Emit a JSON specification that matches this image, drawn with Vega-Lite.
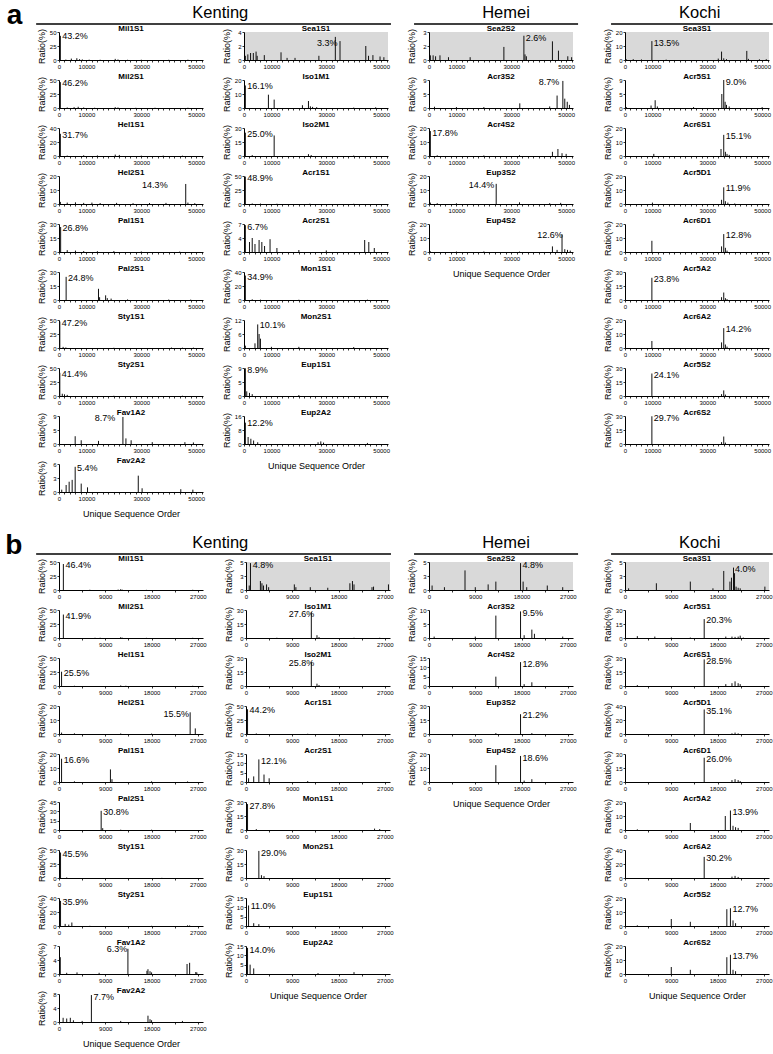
{
"$schema":"https://vega.github.io/schema/vega-lite/v6.json",
"padding":{"left":5,"top":2,"right":2,"bottom":2},
"background":"white",
"config":{
 "font":"Liberation Sans",
 "view":{"stroke":null},
 "axis":{"grid":false,"domainColor":"#000","tickColor":"#000","labelColor":"#000","titleColor":"#000","labelFontSize":6,"tickSize":2,"labelPadding":1,"titleFontSize":9,"titleFontWeight":"normal","domainWidth":1,"tickWidth":0.8},
 "axisY":{"titlePadding":1,"minExtent":12,"maxExtent":12},
 "axisX":{"labelFlush":false,"labelOverlap":false,"titlePadding":8},
 "title":{"fontSize":8,"fontWeight":"bold","offset":-5,"color":"#000"},
 "rule":{"color":"#111","strokeWidth":1},
 "text":{"fontSize":9,"align":"left","baseline":"middle","color":"#000"}
},
"datasets":{
"a":[
{"p":"Mil1S1","x":500,"y":43.2},{"p":"Mil1S1","x":2500,"y":0.8},{"p":"Mil1S1","x":4500,"y":2.5},{"p":"Mil1S1","x":6500,"y":3.2},{"p":"Mil1S1","x":7500,"y":1.5},{"p":"Mil1S1","x":8500,"y":1},{"p":"Mil1S1","x":11000,"y":0.6},{"p":"Mil1S1","x":15000,"y":0.5},{"p":"Mil1S1","x":20500,"y":2},{"p":"Mil1S1","x":21500,"y":1},{"p":"Mil1S1","x":25000,"y":0.4},{"p":"Mil1S1","x":30000,"y":0.5},{"p":"Mil1S1","x":40000,"y":0.4},{"p":"Mil1S1","x":47000,"y":0.6},{"p":"Mil1S1","x":1200,"y":42,"t":"43.2%"},
{"p":"Mil2S1","x":500,"y":46.2},{"p":"Mil2S1","x":3000,"y":1},{"p":"Mil2S1","x":5500,"y":1.5},{"p":"Mil2S1","x":7000,"y":2.2},{"p":"Mil2S1","x":9000,"y":1},{"p":"Mil2S1","x":13000,"y":0.5},{"p":"Mil2S1","x":20500,"y":1.5},{"p":"Mil2S1","x":21500,"y":1},{"p":"Mil2S1","x":28000,"y":0.4},{"p":"Mil2S1","x":35000,"y":0.5},{"p":"Mil2S1","x":47000,"y":0.5},{"p":"Mil2S1","x":1200,"y":44,"t":"46.2%"},
{"p":"Hel1S1","x":500,"y":31.7},{"p":"Hel1S1","x":3000,"y":0.6},{"p":"Hel1S1","x":9000,"y":1},{"p":"Hel1S1","x":14000,"y":0.8},{"p":"Hel1S1","x":20500,"y":2},{"p":"Hel1S1","x":22000,"y":1.5},{"p":"Hel1S1","x":30000,"y":0.5},{"p":"Hel1S1","x":38000,"y":0.6},{"p":"Hel1S1","x":45000,"y":0.5},{"p":"Hel1S1","x":1200,"y":30,"t":"31.7%"},
{"p":"Hel2S1","x":46200,"y":14.3},{"p":"Hel2S1","x":500,"y":1.5},{"p":"Hel2S1","x":3000,"y":1},{"p":"Hel2S1","x":6000,"y":1.2},{"p":"Hel2S1","x":9000,"y":0.8},{"p":"Hel2S1","x":12000,"y":1},{"p":"Hel2S1","x":15000,"y":0.7},{"p":"Hel2S1","x":21000,"y":0.8},{"p":"Hel2S1","x":27000,"y":0.6},{"p":"Hel2S1","x":33000,"y":0.7},{"p":"Hel2S1","x":39000,"y":0.8},{"p":"Hel2S1","x":47000,"y":1},{"p":"Hel2S1","x":49500,"y":0.6},{"p":"Hel2S1","x":30300,"y":13.5,"t":"14.3%"},
{"p":"Pal1S1","x":600,"y":26.8},{"p":"Pal1S1","x":3000,"y":2},{"p":"Pal1S1","x":6000,"y":1.5},{"p":"Pal1S1","x":9000,"y":1},{"p":"Pal1S1","x":14000,"y":0.8},{"p":"Pal1S1","x":20000,"y":1},{"p":"Pal1S1","x":30000,"y":0.6},{"p":"Pal1S1","x":44000,"y":0.5},{"p":"Pal1S1","x":1300,"y":25.5,"t":"26.8%"},
{"p":"Pal2S1","x":2600,"y":24.8},{"p":"Pal2S1","x":14400,"y":12},{"p":"Pal2S1","x":14800,"y":3},{"p":"Pal2S1","x":17000,"y":5},{"p":"Pal2S1","x":17600,"y":2},{"p":"Pal2S1","x":19000,"y":1.5},{"p":"Pal2S1","x":25000,"y":0.6},{"p":"Pal2S1","x":40000,"y":0.5},{"p":"Pal2S1","x":48000,"y":0.4},{"p":"Pal2S1","x":3300,"y":23.5,"t":"24.8%"},
{"p":"Sty1S1","x":300,"y":47.2},{"p":"Sty1S1","x":1500,"y":2},{"p":"Sty1S1","x":2500,"y":1},{"p":"Sty1S1","x":20000,"y":0.4},{"p":"Sty1S1","x":41000,"y":0.8},{"p":"Sty1S1","x":45000,"y":0.6},{"p":"Sty1S1","x":49000,"y":0.7},{"p":"Sty1S1","x":1000,"y":45,"t":"47.2%"},
{"p":"Sty2S1","x":300,"y":41.4},{"p":"Sty2S1","x":1200,"y":4},{"p":"Sty2S1","x":2000,"y":3},{"p":"Sty2S1","x":3000,"y":2},{"p":"Sty2S1","x":20000,"y":0.4},{"p":"Sty2S1","x":45000,"y":0.5},{"p":"Sty2S1","x":1000,"y":39.5,"t":"41.4%"},
{"p":"Fav1A2","x":23300,"y":8.7},{"p":"Fav1A2","x":5900,"y":2.5},{"p":"Fav1A2","x":8100,"y":1.2},{"p":"Fav1A2","x":14400,"y":1},{"p":"Fav1A2","x":24400,"y":1.8},{"p":"Fav1A2","x":26300,"y":1.2},{"p":"Fav1A2","x":34000,"y":0.6},{"p":"Fav1A2","x":45900,"y":0.6},{"p":"Fav1A2","x":49000,"y":0.5},{"p":"Fav1A2","x":13000,"y":8.2,"t":"8.7%"},
{"p":"Fav2A2","x":5900,"y":5.4},{"p":"Fav2A2","x":1000,"y":0.5},{"p":"Fav2A2","x":2600,"y":1.5},{"p":"Fav2A2","x":3700,"y":2.2},{"p":"Fav2A2","x":4800,"y":2.6},{"p":"Fav2A2","x":8100,"y":1.8},{"p":"Fav2A2","x":10400,"y":1},{"p":"Fav2A2","x":28900,"y":3.5},{"p":"Fav2A2","x":30300,"y":0.8},{"p":"Fav2A2","x":44400,"y":0.6},{"p":"Fav2A2","x":48800,"y":0.5},{"p":"Fav2A2","x":6600,"y":5.1,"t":"5.4%"},
{"p":"Sea1S1","x":500,"y":0.6},{"p":"Sea1S1","x":1400,"y":0.8},{"p":"Sea1S1","x":2400,"y":1.0},{"p":"Sea1S1","x":3400,"y":1.0},{"p":"Sea1S1","x":4400,"y":1.2},{"p":"Sea1S1","x":4800,"y":0.6},{"p":"Sea1S1","x":7400,"y":0.7},{"p":"Sea1S1","x":13500,"y":1.1},{"p":"Sea1S1","x":15700,"y":0.3},{"p":"Sea1S1","x":18600,"y":0.3},{"p":"Sea1S1","x":27300,"y":0.6},{"p":"Sea1S1","x":33300,"y":3.3},{"p":"Sea1S1","x":35000,"y":2.7},{"p":"Sea1S1","x":44400,"y":2.0},{"p":"Sea1S1","x":45400,"y":0.6},{"p":"Sea1S1","x":47000,"y":0.7},{"p":"Sea1S1","x":49600,"y":0.5},{"p":"Sea1S1","x":51000,"y":0.4},{"p":"Sea1S1","x":26600,"y":2.5,"t":"3.3%"},
{"p":"Iso1M1","x":500,"y":16.1},{"p":"Iso1M1","x":8900,"y":9.5},{"p":"Iso1M1","x":11000,"y":6},{"p":"Iso1M1","x":21300,"y":2},{"p":"Iso1M1","x":23500,"y":5},{"p":"Iso1M1","x":24200,"y":1.2},{"p":"Iso1M1","x":25000,"y":0.8},{"p":"Iso1M1","x":26500,"y":0.6},{"p":"Iso1M1","x":40000,"y":0.3},{"p":"Iso1M1","x":48000,"y":0.5},{"p":"Iso1M1","x":1200,"y":15.5,"t":"16.1%"},
{"p":"Iso2M1","x":500,"y":25},{"p":"Iso2M1","x":11000,"y":22},{"p":"Iso2M1","x":3000,"y":1},{"p":"Iso2M1","x":23500,"y":2},{"p":"Iso2M1","x":24500,"y":1},{"p":"Iso2M1","x":40000,"y":0.5},{"p":"Iso2M1","x":1200,"y":24,"t":"25.0%"},
{"p":"Acr1S1","x":500,"y":48.9},{"p":"Acr1S1","x":3000,"y":1},{"p":"Acr1S1","x":6000,"y":0.8},{"p":"Acr1S1","x":12000,"y":0.5},{"p":"Acr1S1","x":24000,"y":0.6},{"p":"Acr1S1","x":40000,"y":0.4},{"p":"Acr1S1","x":1200,"y":46,"t":"48.9%"},
{"p":"Acr2S1","x":500,"y":6.7},{"p":"Acr2S1","x":2000,"y":2.5},{"p":"Acr2S1","x":3000,"y":3.5},{"p":"Acr2S1","x":4000,"y":2},{"p":"Acr2S1","x":5500,"y":3},{"p":"Acr2S1","x":6500,"y":2.5},{"p":"Acr2S1","x":7500,"y":1.5},{"p":"Acr2S1","x":9500,"y":3.2},{"p":"Acr2S1","x":12000,"y":1},{"p":"Acr2S1","x":20000,"y":0.5},{"p":"Acr2S1","x":30000,"y":0.4},{"p":"Acr2S1","x":44000,"y":3},{"p":"Acr2S1","x":45500,"y":2.5},{"p":"Acr2S1","x":47500,"y":1},{"p":"Acr2S1","x":1200,"y":6.3,"t":"6.7%"},
{"p":"Mon1S1","x":500,"y":34.9},{"p":"Mon1S1","x":3000,"y":1},{"p":"Mon1S1","x":6000,"y":0.5},{"p":"Mon1S1","x":20000,"y":0.4},{"p":"Mon1S1","x":45000,"y":0.5},{"p":"Mon1S1","x":1200,"y":33,"t":"34.9%"},
{"p":"Mon2S1","x":5000,"y":10.1},{"p":"Mon2S1","x":5500,"y":6},{"p":"Mon2S1","x":6000,"y":4},{"p":"Mon2S1","x":4000,"y":2},{"p":"Mon2S1","x":500,"y":1},{"p":"Mon2S1","x":10000,"y":0.5},{"p":"Mon2S1","x":20000,"y":0.5},{"p":"Mon2S1","x":40000,"y":0.4},{"p":"Mon2S1","x":5700,"y":10,"t":"10.1%"},
{"p":"Eup1S1","x":500,"y":8.9},{"p":"Eup1S1","x":1000,"y":1.5},{"p":"Eup1S1","x":2000,"y":1},{"p":"Eup1S1","x":3000,"y":0.6},{"p":"Eup1S1","x":20000,"y":0.3},{"p":"Eup1S1","x":1200,"y":8.5,"t":"8.9%"},
{"p":"Eup2A2","x":500,"y":12.2},{"p":"Eup2A2","x":1500,"y":4},{"p":"Eup2A2","x":2500,"y":3},{"p":"Eup2A2","x":3500,"y":2},{"p":"Eup2A2","x":5000,"y":1},{"p":"Eup2A2","x":27000,"y":1},{"p":"Eup2A2","x":28000,"y":1.5},{"p":"Eup2A2","x":29000,"y":0.8},{"p":"Eup2A2","x":45000,"y":0.6},{"p":"Eup2A2","x":1200,"y":12,"t":"12.2%"},
{"p":"Sea2S2","x":500,"y":0.5},{"p":"Sea2S2","x":1500,"y":0.5},{"p":"Sea2S2","x":2400,"y":0.4},{"p":"Sea2S2","x":4000,"y":0.5},{"p":"Sea2S2","x":7100,"y":0.3},{"p":"Sea2S2","x":15000,"y":0.3},{"p":"Sea2S2","x":27300,"y":1.4},{"p":"Sea2S2","x":34600,"y":2.6},{"p":"Sea2S2","x":35000,"y":0.6},{"p":"Sea2S2","x":35500,"y":0.4},{"p":"Sea2S2","x":45000,"y":2.0},{"p":"Sea2S2","x":47200,"y":1.0},{"p":"Sea2S2","x":50600,"y":0.4},{"p":"Sea2S2","x":52000,"y":0.3},{"p":"Sea2S2","x":35300,"y":2.4,"t":"2.6%"},
{"p":"Acr3S2","x":2000,"y":0.4},{"p":"Acr3S2","x":10000,"y":0.3},{"p":"Acr3S2","x":20000,"y":0.3},{"p":"Acr3S2","x":33100,"y":1.5},{"p":"Acr3S2","x":44000,"y":0.5},{"p":"Acr3S2","x":46700,"y":4},{"p":"Acr3S2","x":48800,"y":8.7},{"p":"Acr3S2","x":49500,"y":3},{"p":"Acr3S2","x":50400,"y":2},{"p":"Acr3S2","x":51200,"y":1},{"p":"Acr3S2","x":40000,"y":8.3,"t":"8.7%"},
{"p":"Acr4S2","x":500,"y":17.8},{"p":"Acr4S2","x":3000,"y":0.5},{"p":"Acr4S2","x":20000,"y":0.4},{"p":"Acr4S2","x":33000,"y":0.5},{"p":"Acr4S2","x":45000,"y":3},{"p":"Acr4S2","x":47000,"y":5},{"p":"Acr4S2","x":48500,"y":2},{"p":"Acr4S2","x":50000,"y":1.5},{"p":"Acr4S2","x":1200,"y":16.5,"t":"17.8%"},
{"p":"Eup3S2","x":24500,"y":14.4},{"p":"Eup3S2","x":500,"y":1},{"p":"Eup3S2","x":3000,"y":0.6},{"p":"Eup3S2","x":10000,"y":0.5},{"p":"Eup3S2","x":33000,"y":1.2},{"p":"Eup3S2","x":44000,"y":0.6},{"p":"Eup3S2","x":48000,"y":0.8},{"p":"Eup3S2","x":14500,"y":13.5,"t":"14.4%"},
{"p":"Eup4S2","x":500,"y":0.5},{"p":"Eup4S2","x":10000,"y":0.3},{"p":"Eup4S2","x":20000,"y":0.4},{"p":"Eup4S2","x":33000,"y":0.3},{"p":"Eup4S2","x":45000,"y":4},{"p":"Eup4S2","x":46700,"y":1.5},{"p":"Eup4S2","x":48500,"y":12.6},{"p":"Eup4S2","x":49500,"y":2},{"p":"Eup4S2","x":50500,"y":1.5},{"p":"Eup4S2","x":51500,"y":1},{"p":"Eup4S2","x":39500,"y":12,"t":"12.6%"},
{"p":"Sea3S1","x":500,"y":0.5},{"p":"Sea3S1","x":3000,"y":0.6},{"p":"Sea3S1","x":6000,"y":0.4},{"p":"Sea3S1","x":9800,"y":13.5},{"p":"Sea3S1","x":15000,"y":0.3},{"p":"Sea3S1","x":34000,"y":1},{"p":"Sea3S1","x":35200,"y":6},{"p":"Sea3S1","x":36000,"y":1.2},{"p":"Sea3S1","x":37000,"y":0.6},{"p":"Sea3S1","x":44400,"y":6.5},{"p":"Sea3S1","x":45000,"y":0.8},{"p":"Sea3S1","x":49000,"y":0.5},{"p":"Sea3S1","x":51500,"y":0.6},{"p":"Sea3S1","x":10500,"y":12.5,"t":"13.5%"},
{"p":"Acr5S1","x":500,"y":0.3},{"p":"Acr5S1","x":9500,"y":0.8},{"p":"Acr5S1","x":11000,"y":2.5},{"p":"Acr5S1","x":11800,"y":0.5},{"p":"Acr5S1","x":25000,"y":0.3},{"p":"Acr5S1","x":35300,"y":4.5},{"p":"Acr5S1","x":36000,"y":9.0},{"p":"Acr5S1","x":36500,"y":2},{"p":"Acr5S1","x":37000,"y":1},{"p":"Acr5S1","x":38000,"y":0.5},{"p":"Acr5S1","x":50000,"y":0.3},{"p":"Acr5S1","x":36700,"y":8.4,"t":"9.0%"},
{"p":"Acr6S1","x":10500,"y":1.5},{"p":"Acr6S1","x":35000,"y":5},{"p":"Acr6S1","x":36000,"y":15.1},{"p":"Acr6S1","x":36600,"y":3},{"p":"Acr6S1","x":37200,"y":1.5},{"p":"Acr6S1","x":38000,"y":0.8},{"p":"Acr6S1","x":36700,"y":14.5,"t":"15.1%"},
{"p":"Acr5D1","x":10000,"y":1},{"p":"Acr5D1","x":35200,"y":3},{"p":"Acr5D1","x":36000,"y":11.9},{"p":"Acr5D1","x":36600,"y":2},{"p":"Acr5D1","x":37500,"y":1},{"p":"Acr5D1","x":40000,"y":0.4},{"p":"Acr5D1","x":36700,"y":11.3,"t":"11.9%"},
{"p":"Acr6D1","x":9800,"y":8},{"p":"Acr6D1","x":35200,"y":4},{"p":"Acr6D1","x":36000,"y":12.8},{"p":"Acr6D1","x":36600,"y":3},{"p":"Acr6D1","x":37200,"y":1},{"p":"Acr6D1","x":36700,"y":12.3,"t":"12.8%"},
{"p":"Acr5A2","x":9800,"y":23.8},{"p":"Acr5A2","x":35200,"y":3},{"p":"Acr5A2","x":36000,"y":8},{"p":"Acr5A2","x":36600,"y":2},{"p":"Acr5A2","x":37200,"y":1},{"p":"Acr5A2","x":10500,"y":22.5,"t":"23.8%"},
{"p":"Acr6A2","x":9800,"y":5},{"p":"Acr6A2","x":35200,"y":4},{"p":"Acr6A2","x":36000,"y":14.2},{"p":"Acr6A2","x":36600,"y":2.5},{"p":"Acr6A2","x":37200,"y":1},{"p":"Acr6A2","x":36700,"y":13.5,"t":"14.2%"},
{"p":"Acr5S2","x":9800,"y":24.1},{"p":"Acr5S2","x":35200,"y":2},{"p":"Acr5S2","x":36000,"y":6},{"p":"Acr5S2","x":36600,"y":1.5},{"p":"Acr5S2","x":10500,"y":23,"t":"24.1%"},
{"p":"Acr6S2","x":9800,"y":29.7},{"p":"Acr6S2","x":35200,"y":2},{"p":"Acr6S2","x":36000,"y":8},{"p":"Acr6S2","x":36600,"y":1.5},{"p":"Acr6S2","x":10500,"y":28,"t":"29.7%"}
],
"b":[
{"p":"Mil1S1","x":850,"y":46.4},{"p":"Mil1S1","x":6000,"y":0.5},{"p":"Mil1S1","x":11500,"y":0.8},{"p":"Mil1S1","x":12000,"y":1.5},{"p":"Mil1S1","x":12300,"y":0.6},{"p":"Mil1S1","x":17000,"y":0.3},{"p":"Mil1S1","x":26000,"y":0.4},{"p":"Mil1S1","x":1250,"y":44,"t":"46.4%"},
{"p":"Mil2S1","x":850,"y":41.9},{"p":"Mil2S1","x":7000,"y":0.5},{"p":"Mil2S1","x":8000,"y":0.5},{"p":"Mil2S1","x":12000,"y":1.5},{"p":"Mil2S1","x":12300,"y":0.6},{"p":"Mil2S1","x":17000,"y":0.3},{"p":"Mil2S1","x":26000,"y":0.4},{"p":"Mil2S1","x":1250,"y":40,"t":"41.9%"},
{"p":"Hel1S1","x":500,"y":25.5},{"p":"Hel1S1","x":3000,"y":0.5},{"p":"Hel1S1","x":12000,"y":1},{"p":"Hel1S1","x":13000,"y":0.5},{"p":"Hel1S1","x":26000,"y":0.4},{"p":"Hel1S1","x":900,"y":24,"t":"25.5%"},
{"p":"Hel2S1","x":25500,"y":15.5},{"p":"Hel2S1","x":500,"y":1},{"p":"Hel2S1","x":3000,"y":0.5},{"p":"Hel2S1","x":12000,"y":0.4},{"p":"Hel2S1","x":18000,"y":0.3},{"p":"Hel2S1","x":26500,"y":4},{"p":"Hel2S1","x":20300,"y":14.5,"t":"15.5%"},
{"p":"Pal1S1","x":500,"y":16.6},{"p":"Pal1S1","x":10000,"y":9},{"p":"Pal1S1","x":10300,"y":2},{"p":"Pal1S1","x":3000,"y":0.5},{"p":"Pal1S1","x":18000,"y":0.5},{"p":"Pal1S1","x":25000,"y":0.4},{"p":"Pal1S1","x":900,"y":15.5,"t":"16.6%"},
{"p":"Pal2S1","x":8200,"y":30.8},{"p":"Pal2S1","x":8500,"y":3},{"p":"Pal2S1","x":12000,"y":0.5},{"p":"Pal2S1","x":18000,"y":0.5},{"p":"Pal2S1","x":8600,"y":29,"t":"30.8%"},
{"p":"Sty1S1","x":300,"y":45.5},{"p":"Sty1S1","x":1500,"y":1},{"p":"Sty1S1","x":20000,"y":0.3},{"p":"Sty1S1","x":700,"y":43,"t":"45.5%"},
{"p":"Sty2S1","x":300,"y":35.9},{"p":"Sty2S1","x":1200,"y":3},{"p":"Sty2S1","x":1900,"y":2},{"p":"Sty2S1","x":2500,"y":5},{"p":"Sty2S1","x":6000,"y":0.3},{"p":"Sty2S1","x":18000,"y":0.3},{"p":"Sty2S1","x":25000,"y":1},{"p":"Sty2S1","x":25400,"y":0.8},{"p":"Sty2S1","x":700,"y":34,"t":"35.9%"},
{"p":"Fav1A2","x":250,"y":4.2},{"p":"Fav1A2","x":1500,"y":0.3},{"p":"Fav1A2","x":3500,"y":0.4},{"p":"Fav1A2","x":7800,"y":0.3},{"p":"Fav1A2","x":13400,"y":6.3},{"p":"Fav1A2","x":17100,"y":0.8},{"p":"Fav1A2","x":17300,"y":1.2},{"p":"Fav1A2","x":17700,"y":0.7},{"p":"Fav1A2","x":18000,"y":0.4},{"p":"Fav1A2","x":24900,"y":2.5},{"p":"Fav1A2","x":25400,"y":2.8},{"p":"Fav1A2","x":26600,"y":0.5},{"p":"Fav1A2","x":26800,"y":0.4},{"p":"Fav1A2","x":9300,"y":6.2,"t":"6.3%"},
{"p":"Fav2A2","x":800,"y":1.2},{"p":"Fav2A2","x":1500,"y":1},{"p":"Fav2A2","x":2200,"y":1.2},{"p":"Fav2A2","x":2800,"y":0.5},{"p":"Fav2A2","x":4500,"y":0.3},{"p":"Fav2A2","x":6300,"y":7.7},{"p":"Fav2A2","x":12000,"y":0.3},{"p":"Fav2A2","x":17300,"y":1.8},{"p":"Fav2A2","x":17700,"y":0.8},{"p":"Fav2A2","x":18000,"y":0.5},{"p":"Fav2A2","x":24000,"y":0.3},{"p":"Fav2A2","x":6700,"y":7.2,"t":"7.7%"},
{"p":"Sea1S1","x":630,"y":0.8},{"p":"Sea1S1","x":870,"y":4.8},{"p":"Sea1S1","x":2800,"y":1.6},{"p":"Sea1S1","x":3100,"y":1.2},{"p":"Sea1S1","x":3400,"y":0.8},{"p":"Sea1S1","x":4000,"y":1.0},{"p":"Sea1S1","x":4400,"y":0.5},{"p":"Sea1S1","x":9400,"y":1.0},{"p":"Sea1S1","x":9700,"y":0.5},{"p":"Sea1S1","x":12500,"y":0.5},{"p":"Sea1S1","x":15900,"y":0.4},{"p":"Sea1S1","x":20200,"y":1.2},{"p":"Sea1S1","x":20700,"y":1.6},{"p":"Sea1S1","x":21000,"y":1.0},{"p":"Sea1S1","x":24500,"y":0.5},{"p":"Sea1S1","x":24800,"y":0.6},{"p":"Sea1S1","x":27700,"y":1.0},{"p":"Sea1S1","x":1300,"y":4.5,"t":"4.8%"},
{"p":"Iso1M1","x":12700,"y":27.6},{"p":"Iso1M1","x":13800,"y":3},{"p":"Iso1M1","x":14200,"y":1},{"p":"Iso1M1","x":6000,"y":0.3},{"p":"Iso1M1","x":21000,"y":0.3},{"p":"Iso1M1","x":26000,"y":0.3},{"p":"Iso1M1","x":8300,"y":26,"t":"27.6%"},
{"p":"Iso2M1","x":12700,"y":25.8},{"p":"Iso2M1","x":13800,"y":2.5},{"p":"Iso2M1","x":14200,"y":1},{"p":"Iso2M1","x":8300,"y":25,"t":"25.8%"},
{"p":"Acr1S1","x":300,"y":44.2},{"p":"Acr1S1","x":2000,"y":1},{"p":"Acr1S1","x":12000,"y":0.5},{"p":"Acr1S1","x":700,"y":42,"t":"44.2%"},
{"p":"Acr2S1","x":2500,"y":12.1},{"p":"Acr2S1","x":500,"y":2},{"p":"Acr2S1","x":1500,"y":3},{"p":"Acr2S1","x":3500,"y":4},{"p":"Acr2S1","x":4500,"y":2},{"p":"Acr2S1","x":12000,"y":0.5},{"p":"Acr2S1","x":2900,"y":11.5,"t":"12.1%"},
{"p":"Mon1S1","x":300,"y":27.8},{"p":"Mon1S1","x":2000,"y":1},{"p":"Mon1S1","x":25000,"y":1.5},{"p":"Mon1S1","x":26000,"y":1},{"p":"Mon1S1","x":700,"y":26,"t":"27.8%"},
{"p":"Mon2S1","x":2500,"y":29.0},{"p":"Mon2S1","x":3000,"y":3},{"p":"Mon2S1","x":3500,"y":2},{"p":"Mon2S1","x":2900,"y":27,"t":"29.0%"},
{"p":"Eup1S1","x":500,"y":11.0},{"p":"Eup1S1","x":1500,"y":1.5},{"p":"Eup1S1","x":2500,"y":1},{"p":"Eup1S1","x":900,"y":10.5,"t":"11.0%"},
{"p":"Eup2A2","x":300,"y":14.0},{"p":"Eup2A2","x":800,"y":5},{"p":"Eup2A2","x":1500,"y":3},{"p":"Eup2A2","x":14000,"y":0.5},{"p":"Eup2A2","x":21000,"y":1},{"p":"Eup2A2","x":700,"y":13,"t":"14.0%"},
{"p":"Sea2S2","x":600,"y":0.8},{"p":"Sea2S2","x":3000,"y":0.5},{"p":"Sea2S2","x":7000,"y":3.5},{"p":"Sea2S2","x":9000,"y":0.5},{"p":"Sea2S2","x":11500,"y":1},{"p":"Sea2S2","x":13000,"y":1.5},{"p":"Sea2S2","x":17800,"y":4.8},{"p":"Sea2S2","x":18300,"y":1.5},{"p":"Sea2S2","x":19000,"y":0.5},{"p":"Sea2S2","x":23000,"y":0.8},{"p":"Sea2S2","x":26000,"y":0.5},{"p":"Sea2S2","x":18200,"y":4.5,"t":"4.8%"},
{"p":"Acr3S2","x":1000,"y":0.5},{"p":"Acr3S2","x":9000,"y":0.5},{"p":"Acr3S2","x":13000,"y":8},{"p":"Acr3S2","x":17800,"y":9.5},{"p":"Acr3S2","x":18500,"y":1},{"p":"Acr3S2","x":20000,"y":3},{"p":"Acr3S2","x":20500,"y":1.5},{"p":"Acr3S2","x":26000,"y":0.5},{"p":"Acr3S2","x":18200,"y":9,"t":"9.5%"},
{"p":"Acr4S2","x":13000,"y":5},{"p":"Acr4S2","x":17800,"y":12.8},{"p":"Acr4S2","x":18500,"y":1},{"p":"Acr4S2","x":20000,"y":2},{"p":"Acr4S2","x":18200,"y":12,"t":"12.8%"},
{"p":"Eup3S2","x":17800,"y":21.2},{"p":"Eup3S2","x":13000,"y":1},{"p":"Eup3S2","x":20000,"y":1},{"p":"Eup3S2","x":18200,"y":20,"t":"21.2%"},
{"p":"Eup4S2","x":13000,"y":12},{"p":"Eup4S2","x":17800,"y":18.6},{"p":"Eup4S2","x":18500,"y":1},{"p":"Eup4S2","x":20000,"y":2},{"p":"Eup4S2","x":18200,"y":17.5,"t":"18.6%"},
{"p":"Sea3S1","x":700,"y":0.3},{"p":"Sea3S1","x":6100,"y":1.2},{"p":"Sea3S1","x":12700,"y":1.5},{"p":"Sea3S1","x":17100,"y":0.3},{"p":"Sea3S1","x":19200,"y":3.4},{"p":"Sea3S1","x":20400,"y":1.5},{"p":"Sea3S1","x":20700,"y":2.2},{"p":"Sea3S1","x":21100,"y":4.0},{"p":"Sea3S1","x":21300,"y":3.0},{"p":"Sea3S1","x":21600,"y":0.6},{"p":"Sea3S1","x":22000,"y":0.4},{"p":"Sea3S1","x":22400,"y":0.3},{"p":"Sea3S1","x":27200,"y":0.6},{"p":"Sea3S1","x":21400,"y":3.8,"t":"4.0%"},
{"p":"Acr5S1","x":2400,"y":2},{"p":"Acr5S1","x":5800,"y":1.5},{"p":"Acr5S1","x":9000,"y":0.5},{"p":"Acr5S1","x":12700,"y":0.5},{"p":"Acr5S1","x":15400,"y":20.3},{"p":"Acr5S1","x":19600,"y":1.5},{"p":"Acr5S1","x":20800,"y":1.5},{"p":"Acr5S1","x":21400,"y":1.2},{"p":"Acr5S1","x":22000,"y":1.5},{"p":"Acr5S1","x":22400,"y":2.5},{"p":"Acr5S1","x":23000,"y":0.5},{"p":"Acr5S1","x":15800,"y":19.5,"t":"20.3%"},
{"p":"Acr6S1","x":2400,"y":1},{"p":"Acr6S1","x":15400,"y":28.5},{"p":"Acr6S1","x":19600,"y":2},{"p":"Acr6S1","x":20800,"y":3},{"p":"Acr6S1","x":21400,"y":5},{"p":"Acr6S1","x":22000,"y":3},{"p":"Acr6S1","x":22400,"y":2},{"p":"Acr6S1","x":15800,"y":27,"t":"28.5%"},
{"p":"Acr5D1","x":15400,"y":35.1},{"p":"Acr5D1","x":20800,"y":1},{"p":"Acr5D1","x":21400,"y":2},{"p":"Acr5D1","x":22000,"y":1},{"p":"Acr5D1","x":15800,"y":33,"t":"35.1%"},
{"p":"Acr6D1","x":15400,"y":26},{"p":"Acr6D1","x":20800,"y":2},{"p":"Acr6D1","x":21400,"y":3},{"p":"Acr6D1","x":22000,"y":2},{"p":"Acr6D1","x":22400,"y":1},{"p":"Acr6D1","x":15800,"y":25,"t":"26.0%"},
{"p":"Acr5A2","x":2400,"y":0.5},{"p":"Acr5A2","x":12700,"y":5},{"p":"Acr5A2","x":19500,"y":10},{"p":"Acr5A2","x":20500,"y":13.9},{"p":"Acr5A2","x":21000,"y":3},{"p":"Acr5A2","x":21500,"y":2},{"p":"Acr5A2","x":22000,"y":1.5},{"p":"Acr5A2","x":20900,"y":13,"t":"13.9%"},
{"p":"Acr6A2","x":15400,"y":30.2},{"p":"Acr6A2","x":20800,"y":2},{"p":"Acr6A2","x":21400,"y":3},{"p":"Acr6A2","x":22000,"y":1.5},{"p":"Acr6A2","x":15800,"y":29,"t":"30.2%"},
{"p":"Acr5S2","x":2400,"y":0.5},{"p":"Acr5S2","x":9000,"y":5},{"p":"Acr5S2","x":12700,"y":3},{"p":"Acr5S2","x":19800,"y":12},{"p":"Acr5S2","x":20500,"y":12.7},{"p":"Acr5S2","x":21000,"y":4},{"p":"Acr5S2","x":21500,"y":2},{"p":"Acr5S2","x":20900,"y":12,"t":"12.7%"},
{"p":"Acr6S2","x":9000,"y":5},{"p":"Acr6S2","x":12700,"y":3},{"p":"Acr6S2","x":19800,"y":12},{"p":"Acr6S2","x":20500,"y":13.7},{"p":"Acr6S2","x":21000,"y":3},{"p":"Acr6S2","x":21500,"y":2},{"p":"Acr6S2","x":20900,"y":13,"t":"13.7%"}
]
},
"spacing":14,
"vconcat":[
{"title":{"text":"a","orient":"left","anchor":"end","angle":0,"align":"left","baseline":"top","fontSize":28,"fontWeight":"bold","offset":13},
 "spacing":12,
 "hconcat":[
  {"spacing":0,"vconcat":[
    {"width":336,"height":22,"data":{"values":[{"t":"Kenting"}]},"layer":[
      {"mark":{"type":"text","fontSize":16.5,"align":"center","baseline":"bottom"},"encoding":{"text":{"field":"t"},"x":{"datum":0.48,"type":"quantitative","scale":{"domain":[0,1]},"axis":null},"y":{"datum":0.12,"type":"quantitative","scale":{"domain":[0,1]},"axis":null}}},
      {"mark":{"type":"rule","strokeWidth":1.6,"color":"#000"},"encoding":{"x":{"datum":-0.068,"type":"quantitative","scale":{"domain":[0,1]},"axis":null},"x2":{"datum":0.988},"y":{"datum":0,"type":"quantitative","scale":{"domain":[0,1]},"axis":null}}}]},
    {"spacing":17,"hconcat":[
      {"spacing":4,"vconcat":[
{"width":144,"height":28,"title":"Mil1S1","data":{"name":"a"},"encoding":{"x":{"field":"x","type":"quantitative","scale":{"domain":[0,52500]},"axis":{"values":[0,2000,4000,6000,8000,10000,12000,14000,16000,18000,20000,22000,24000,26000,28000,30000,32000,34000,36000,38000,40000,42000,44000,46000,48000,50000,52000],"format":"d","labelExpr":"datum.value==0||datum.value==10000||datum.value==30000||datum.value==50000?datum.label:''","title":null}},"y":{"field":"y","type":"quantitative","scale":{"domain":[0,50]},"axis":{"values":[0,25,50],"title":"Ratio(%)"}}},"layer":[{"transform":[{"filter":"datum.p=='Mil1S1'&&!datum.t"}],"mark":"rule","encoding":{"y2":{"datum":0}}},{"transform":[{"filter":"datum.p=='Mil1S1'&&datum.t"}],"mark":"text","encoding":{"text":{"field":"t"}}}]},
{"width":144,"height":28,"title":"Mil2S1","data":{"name":"a"},"encoding":{"x":{"field":"x","type":"quantitative","scale":{"domain":[0,52500]},"axis":{"values":[0,2000,4000,6000,8000,10000,12000,14000,16000,18000,20000,22000,24000,26000,28000,30000,32000,34000,36000,38000,40000,42000,44000,46000,48000,50000,52000],"format":"d","labelExpr":"datum.value==0||datum.value==10000||datum.value==30000||datum.value==50000?datum.label:''","title":null}},"y":{"field":"y","type":"quantitative","scale":{"domain":[0,50]},"axis":{"values":[0,25,50],"title":"Ratio(%)"}}},"layer":[{"transform":[{"filter":"datum.p=='Mil2S1'&&!datum.t"}],"mark":"rule","encoding":{"y2":{"datum":0}}},{"transform":[{"filter":"datum.p=='Mil2S1'&&datum.t"}],"mark":"text","encoding":{"text":{"field":"t"}}}]},
{"width":144,"height":28,"title":"Hel1S1","data":{"name":"a"},"encoding":{"x":{"field":"x","type":"quantitative","scale":{"domain":[0,52500]},"axis":{"values":[0,2000,4000,6000,8000,10000,12000,14000,16000,18000,20000,22000,24000,26000,28000,30000,32000,34000,36000,38000,40000,42000,44000,46000,48000,50000,52000],"format":"d","labelExpr":"datum.value==0||datum.value==10000||datum.value==30000||datum.value==50000?datum.label:''","title":null}},"y":{"field":"y","type":"quantitative","scale":{"domain":[0,40]},"axis":{"values":[0,20,40],"title":"Ratio(%)"}}},"layer":[{"transform":[{"filter":"datum.p=='Hel1S1'&&!datum.t"}],"mark":"rule","encoding":{"y2":{"datum":0}}},{"transform":[{"filter":"datum.p=='Hel1S1'&&datum.t"}],"mark":"text","encoding":{"text":{"field":"t"}}}]},
{"width":144,"height":28,"title":"Hel2S1","data":{"name":"a"},"encoding":{"x":{"field":"x","type":"quantitative","scale":{"domain":[0,52500]},"axis":{"values":[0,2000,4000,6000,8000,10000,12000,14000,16000,18000,20000,22000,24000,26000,28000,30000,32000,34000,36000,38000,40000,42000,44000,46000,48000,50000,52000],"format":"d","labelExpr":"datum.value==0||datum.value==10000||datum.value==30000||datum.value==50000?datum.label:''","title":null}},"y":{"field":"y","type":"quantitative","scale":{"domain":[0,20]},"axis":{"values":[0,10,20],"title":"Ratio(%)"}}},"layer":[{"transform":[{"filter":"datum.p=='Hel2S1'&&!datum.t"}],"mark":"rule","encoding":{"y2":{"datum":0}}},{"transform":[{"filter":"datum.p=='Hel2S1'&&datum.t"}],"mark":"text","encoding":{"text":{"field":"t"}}}]},
{"width":144,"height":28,"title":"Pal1S1","data":{"name":"a"},"encoding":{"x":{"field":"x","type":"quantitative","scale":{"domain":[0,52500]},"axis":{"values":[0,2000,4000,6000,8000,10000,12000,14000,16000,18000,20000,22000,24000,26000,28000,30000,32000,34000,36000,38000,40000,42000,44000,46000,48000,50000,52000],"format":"d","labelExpr":"datum.value==0||datum.value==10000||datum.value==30000||datum.value==50000?datum.label:''","title":null}},"y":{"field":"y","type":"quantitative","scale":{"domain":[0,30]},"axis":{"values":[0,15,30],"title":"Ratio(%)"}}},"layer":[{"transform":[{"filter":"datum.p=='Pal1S1'&&!datum.t"}],"mark":"rule","encoding":{"y2":{"datum":0}}},{"transform":[{"filter":"datum.p=='Pal1S1'&&datum.t"}],"mark":"text","encoding":{"text":{"field":"t"}}}]},
{"width":144,"height":28,"title":"Pal2S1","data":{"name":"a"},"encoding":{"x":{"field":"x","type":"quantitative","scale":{"domain":[0,52500]},"axis":{"values":[0,2000,4000,6000,8000,10000,12000,14000,16000,18000,20000,22000,24000,26000,28000,30000,32000,34000,36000,38000,40000,42000,44000,46000,48000,50000,52000],"format":"d","labelExpr":"datum.value==0||datum.value==10000||datum.value==30000||datum.value==50000?datum.label:''","title":null}},"y":{"field":"y","type":"quantitative","scale":{"domain":[0,30]},"axis":{"values":[0,15,30],"title":"Ratio(%)"}}},"layer":[{"transform":[{"filter":"datum.p=='Pal2S1'&&!datum.t"}],"mark":"rule","encoding":{"y2":{"datum":0}}},{"transform":[{"filter":"datum.p=='Pal2S1'&&datum.t"}],"mark":"text","encoding":{"text":{"field":"t"}}}]},
{"width":144,"height":28,"title":"Sty1S1","data":{"name":"a"},"encoding":{"x":{"field":"x","type":"quantitative","scale":{"domain":[0,52500]},"axis":{"values":[0,2000,4000,6000,8000,10000,12000,14000,16000,18000,20000,22000,24000,26000,28000,30000,32000,34000,36000,38000,40000,42000,44000,46000,48000,50000,52000],"format":"d","labelExpr":"datum.value==0||datum.value==10000||datum.value==30000||datum.value==50000?datum.label:''","title":null}},"y":{"field":"y","type":"quantitative","scale":{"domain":[0,50]},"axis":{"values":[0,25,50],"title":"Ratio(%)"}}},"layer":[{"transform":[{"filter":"datum.p=='Sty1S1'&&!datum.t"}],"mark":"rule","encoding":{"y2":{"datum":0}}},{"transform":[{"filter":"datum.p=='Sty1S1'&&datum.t"}],"mark":"text","encoding":{"text":{"field":"t"}}}]},
{"width":144,"height":28,"title":"Sty2S1","data":{"name":"a"},"encoding":{"x":{"field":"x","type":"quantitative","scale":{"domain":[0,52500]},"axis":{"values":[0,2000,4000,6000,8000,10000,12000,14000,16000,18000,20000,22000,24000,26000,28000,30000,32000,34000,36000,38000,40000,42000,44000,46000,48000,50000,52000],"format":"d","labelExpr":"datum.value==0||datum.value==10000||datum.value==30000||datum.value==50000?datum.label:''","title":null}},"y":{"field":"y","type":"quantitative","scale":{"domain":[0,50]},"axis":{"values":[0,25,50],"title":"Ratio(%)"}}},"layer":[{"transform":[{"filter":"datum.p=='Sty2S1'&&!datum.t"}],"mark":"rule","encoding":{"y2":{"datum":0}}},{"transform":[{"filter":"datum.p=='Sty2S1'&&datum.t"}],"mark":"text","encoding":{"text":{"field":"t"}}}]},
{"width":144,"height":28,"title":"Fav1A2","data":{"name":"a"},"encoding":{"x":{"field":"x","type":"quantitative","scale":{"domain":[0,52500]},"axis":{"values":[0,2000,4000,6000,8000,10000,12000,14000,16000,18000,20000,22000,24000,26000,28000,30000,32000,34000,36000,38000,40000,42000,44000,46000,48000,50000,52000],"format":"d","labelExpr":"datum.value==0||datum.value==10000||datum.value==30000||datum.value==50000?datum.label:''","title":null}},"y":{"field":"y","type":"quantitative","scale":{"domain":[0,9]},"axis":{"values":[0,4.5,9],"title":"Ratio(%)"}}},"layer":[{"transform":[{"filter":"datum.p=='Fav1A2'&&!datum.t"}],"mark":"rule","encoding":{"y2":{"datum":0}}},{"transform":[{"filter":"datum.p=='Fav1A2'&&datum.t"}],"mark":"text","encoding":{"text":{"field":"t"}}}]},
{"width":144,"height":28,"title":"Fav2A2","data":{"name":"a"},"encoding":{"x":{"field":"x","type":"quantitative","scale":{"domain":[0,52500]},"axis":{"values":[0,2000,4000,6000,8000,10000,12000,14000,16000,18000,20000,22000,24000,26000,28000,30000,32000,34000,36000,38000,40000,42000,44000,46000,48000,50000,52000],"format":"d","labelExpr":"datum.value==0||datum.value==10000||datum.value==30000||datum.value==50000?datum.label:''","title":"Unique Sequence Order"}},"y":{"field":"y","type":"quantitative","scale":{"domain":[0,6]},"axis":{"values":[0,3,6],"title":"Ratio(%)"}}},"layer":[{"transform":[{"filter":"datum.p=='Fav2A2'&&!datum.t"}],"mark":"rule","encoding":{"y2":{"datum":0}}},{"transform":[{"filter":"datum.p=='Fav2A2'&&datum.t"}],"mark":"text","encoding":{"text":{"field":"t"}}}]}
      ]},
      {"spacing":4,"vconcat":[
{"width":144,"height":28,"view":{"fill":"#d9d9d9","stroke":null},"title":"Sea1S1","data":{"name":"a"},"encoding":{"x":{"field":"x","type":"quantitative","scale":{"domain":[0,52500]},"axis":{"values":[0,2000,4000,6000,8000,10000,12000,14000,16000,18000,20000,22000,24000,26000,28000,30000,32000,34000,36000,38000,40000,42000,44000,46000,48000,50000,52000],"format":"d","labelExpr":"datum.value==0||datum.value==10000||datum.value==30000||datum.value==50000?datum.label:''","title":null}},"y":{"field":"y","type":"quantitative","scale":{"domain":[0,4]},"axis":{"values":[0,2,4],"title":"Ratio(%)"}}},"layer":[{"transform":[{"filter":"datum.p=='Sea1S1'&&!datum.t"}],"mark":"rule","encoding":{"y2":{"datum":0}}},{"transform":[{"filter":"datum.p=='Sea1S1'&&datum.t"}],"mark":"text","encoding":{"text":{"field":"t"}}}]},
{"width":144,"height":28,"title":"Iso1M1","data":{"name":"a"},"encoding":{"x":{"field":"x","type":"quantitative","scale":{"domain":[0,52500]},"axis":{"values":[0,2000,4000,6000,8000,10000,12000,14000,16000,18000,20000,22000,24000,26000,28000,30000,32000,34000,36000,38000,40000,42000,44000,46000,48000,50000,52000],"format":"d","labelExpr":"datum.value==0||datum.value==10000||datum.value==30000||datum.value==50000?datum.label:''","title":null}},"y":{"field":"y","type":"quantitative","scale":{"domain":[0,20]},"axis":{"values":[0,10,20],"title":"Ratio(%)"}}},"layer":[{"transform":[{"filter":"datum.p=='Iso1M1'&&!datum.t"}],"mark":"rule","encoding":{"y2":{"datum":0}}},{"transform":[{"filter":"datum.p=='Iso1M1'&&datum.t"}],"mark":"text","encoding":{"text":{"field":"t"}}}]},
{"width":144,"height":28,"title":"Iso2M1","data":{"name":"a"},"encoding":{"x":{"field":"x","type":"quantitative","scale":{"domain":[0,52500]},"axis":{"values":[0,2000,4000,6000,8000,10000,12000,14000,16000,18000,20000,22000,24000,26000,28000,30000,32000,34000,36000,38000,40000,42000,44000,46000,48000,50000,52000],"format":"d","labelExpr":"datum.value==0||datum.value==10000||datum.value==30000||datum.value==50000?datum.label:''","title":null}},"y":{"field":"y","type":"quantitative","scale":{"domain":[0,30]},"axis":{"values":[0,15,30],"title":"Ratio(%)"}}},"layer":[{"transform":[{"filter":"datum.p=='Iso2M1'&&!datum.t"}],"mark":"rule","encoding":{"y2":{"datum":0}}},{"transform":[{"filter":"datum.p=='Iso2M1'&&datum.t"}],"mark":"text","encoding":{"text":{"field":"t"}}}]},
{"width":144,"height":28,"title":"Acr1S1","data":{"name":"a"},"encoding":{"x":{"field":"x","type":"quantitative","scale":{"domain":[0,52500]},"axis":{"values":[0,2000,4000,6000,8000,10000,12000,14000,16000,18000,20000,22000,24000,26000,28000,30000,32000,34000,36000,38000,40000,42000,44000,46000,48000,50000,52000],"format":"d","labelExpr":"datum.value==0||datum.value==10000||datum.value==30000||datum.value==50000?datum.label:''","title":null}},"y":{"field":"y","type":"quantitative","scale":{"domain":[0,50]},"axis":{"values":[0,25,50],"title":"Ratio(%)"}}},"layer":[{"transform":[{"filter":"datum.p=='Acr1S1'&&!datum.t"}],"mark":"rule","encoding":{"y2":{"datum":0}}},{"transform":[{"filter":"datum.p=='Acr1S1'&&datum.t"}],"mark":"text","encoding":{"text":{"field":"t"}}}]},
{"width":144,"height":28,"title":"Acr2S1","data":{"name":"a"},"encoding":{"x":{"field":"x","type":"quantitative","scale":{"domain":[0,52500]},"axis":{"values":[0,2000,4000,6000,8000,10000,12000,14000,16000,18000,20000,22000,24000,26000,28000,30000,32000,34000,36000,38000,40000,42000,44000,46000,48000,50000,52000],"format":"d","labelExpr":"datum.value==0||datum.value==10000||datum.value==30000||datum.value==50000?datum.label:''","title":null}},"y":{"field":"y","type":"quantitative","scale":{"domain":[0,7]},"axis":{"values":[0,3.5,7],"title":"Ratio(%)"}}},"layer":[{"transform":[{"filter":"datum.p=='Acr2S1'&&!datum.t"}],"mark":"rule","encoding":{"y2":{"datum":0}}},{"transform":[{"filter":"datum.p=='Acr2S1'&&datum.t"}],"mark":"text","encoding":{"text":{"field":"t"}}}]},
{"width":144,"height":28,"title":"Mon1S1","data":{"name":"a"},"encoding":{"x":{"field":"x","type":"quantitative","scale":{"domain":[0,52500]},"axis":{"values":[0,2000,4000,6000,8000,10000,12000,14000,16000,18000,20000,22000,24000,26000,28000,30000,32000,34000,36000,38000,40000,42000,44000,46000,48000,50000,52000],"format":"d","labelExpr":"datum.value==0||datum.value==10000||datum.value==30000||datum.value==50000?datum.label:''","title":null}},"y":{"field":"y","type":"quantitative","scale":{"domain":[0,40]},"axis":{"values":[0,20,40],"title":"Ratio(%)"}}},"layer":[{"transform":[{"filter":"datum.p=='Mon1S1'&&!datum.t"}],"mark":"rule","encoding":{"y2":{"datum":0}}},{"transform":[{"filter":"datum.p=='Mon1S1'&&datum.t"}],"mark":"text","encoding":{"text":{"field":"t"}}}]},
{"width":144,"height":28,"title":"Mon2S1","data":{"name":"a"},"encoding":{"x":{"field":"x","type":"quantitative","scale":{"domain":[0,52500]},"axis":{"values":[0,2000,4000,6000,8000,10000,12000,14000,16000,18000,20000,22000,24000,26000,28000,30000,32000,34000,36000,38000,40000,42000,44000,46000,48000,50000,52000],"format":"d","labelExpr":"datum.value==0||datum.value==10000||datum.value==30000||datum.value==50000?datum.label:''","title":null}},"y":{"field":"y","type":"quantitative","scale":{"domain":[0,12]},"axis":{"values":[0,6,12],"title":"Ratio(%)"}}},"layer":[{"transform":[{"filter":"datum.p=='Mon2S1'&&!datum.t"}],"mark":"rule","encoding":{"y2":{"datum":0}}},{"transform":[{"filter":"datum.p=='Mon2S1'&&datum.t"}],"mark":"text","encoding":{"text":{"field":"t"}}}]},
{"width":144,"height":28,"title":"Eup1S1","data":{"name":"a"},"encoding":{"x":{"field":"x","type":"quantitative","scale":{"domain":[0,52500]},"axis":{"values":[0,2000,4000,6000,8000,10000,12000,14000,16000,18000,20000,22000,24000,26000,28000,30000,32000,34000,36000,38000,40000,42000,44000,46000,48000,50000,52000],"format":"d","labelExpr":"datum.value==0||datum.value==10000||datum.value==30000||datum.value==50000?datum.label:''","title":null}},"y":{"field":"y","type":"quantitative","scale":{"domain":[0,9]},"axis":{"values":[0,4.5,9],"title":"Ratio(%)"}}},"layer":[{"transform":[{"filter":"datum.p=='Eup1S1'&&!datum.t"}],"mark":"rule","encoding":{"y2":{"datum":0}}},{"transform":[{"filter":"datum.p=='Eup1S1'&&datum.t"}],"mark":"text","encoding":{"text":{"field":"t"}}}]},
{"width":144,"height":28,"title":"Eup2A2","data":{"name":"a"},"encoding":{"x":{"field":"x","type":"quantitative","scale":{"domain":[0,52500]},"axis":{"values":[0,2000,4000,6000,8000,10000,12000,14000,16000,18000,20000,22000,24000,26000,28000,30000,32000,34000,36000,38000,40000,42000,44000,46000,48000,50000,52000],"format":"d","labelExpr":"datum.value==0||datum.value==10000||datum.value==30000||datum.value==50000?datum.label:''","title":"Unique Sequence Order"}},"y":{"field":"y","type":"quantitative","scale":{"domain":[0,16]},"axis":{"values":[0,8,16],"title":"Ratio(%)"}}},"layer":[{"transform":[{"filter":"datum.p=='Eup2A2'&&!datum.t"}],"mark":"rule","encoding":{"y2":{"datum":0}}},{"transform":[{"filter":"datum.p=='Eup2A2'&&datum.t"}],"mark":"text","encoding":{"text":{"field":"t"}}}]}
      ]}
    ]}
  ]},
  {"spacing":8,"hconcat":[
  {"spacing":0,"vconcat":[
    {"width":166,"height":22,"data":{"values":[{"t":"Hemei"}]},"layer":[
      {"mark":{"type":"text","fontSize":16.5,"align":"center","baseline":"bottom"},"encoding":{"text":{"field":"t"},"x":{"datum":0.464,"type":"quantitative","scale":{"domain":[0,1]},"axis":null},"y":{"datum":0.12,"type":"quantitative","scale":{"domain":[0,1]},"axis":null}}},
      {"mark":{"type":"rule","strokeWidth":1.6,"color":"#000"},"encoding":{"x":{"datum":-0.09,"type":"quantitative","scale":{"domain":[0,1]},"axis":null},"x2":{"datum":0.898},"y":{"datum":0,"type":"quantitative","scale":{"domain":[0,1]},"axis":null}}}]},
    {"spacing":4,"vconcat":[
{"width":144,"height":28,"view":{"fill":"#d9d9d9","stroke":null},"title":"Sea2S2","data":{"name":"a"},"encoding":{"x":{"field":"x","type":"quantitative","scale":{"domain":[0,52500]},"axis":{"values":[0,2000,4000,6000,8000,10000,12000,14000,16000,18000,20000,22000,24000,26000,28000,30000,32000,34000,36000,38000,40000,42000,44000,46000,48000,50000,52000],"format":"d","labelExpr":"datum.value==0||datum.value==10000||datum.value==30000||datum.value==50000?datum.label:''","title":null}},"y":{"field":"y","type":"quantitative","scale":{"domain":[0,3]},"axis":{"values":[0,1.5,3],"title":"Ratio(%)"}}},"layer":[{"transform":[{"filter":"datum.p=='Sea2S2'&&!datum.t"}],"mark":"rule","encoding":{"y2":{"datum":0}}},{"transform":[{"filter":"datum.p=='Sea2S2'&&datum.t"}],"mark":"text","encoding":{"text":{"field":"t"}}}]},
{"width":144,"height":28,"title":"Acr3S2","data":{"name":"a"},"encoding":{"x":{"field":"x","type":"quantitative","scale":{"domain":[0,52500]},"axis":{"values":[0,2000,4000,6000,8000,10000,12000,14000,16000,18000,20000,22000,24000,26000,28000,30000,32000,34000,36000,38000,40000,42000,44000,46000,48000,50000,52000],"format":"d","labelExpr":"datum.value==0||datum.value==10000||datum.value==30000||datum.value==50000?datum.label:''","title":null}},"y":{"field":"y","type":"quantitative","scale":{"domain":[0,9]},"axis":{"values":[0,4.5,9],"title":"Ratio(%)"}}},"layer":[{"transform":[{"filter":"datum.p=='Acr3S2'&&!datum.t"}],"mark":"rule","encoding":{"y2":{"datum":0}}},{"transform":[{"filter":"datum.p=='Acr3S2'&&datum.t"}],"mark":"text","encoding":{"text":{"field":"t"}}}]},
{"width":144,"height":28,"title":"Acr4S2","data":{"name":"a"},"encoding":{"x":{"field":"x","type":"quantitative","scale":{"domain":[0,52500]},"axis":{"values":[0,2000,4000,6000,8000,10000,12000,14000,16000,18000,20000,22000,24000,26000,28000,30000,32000,34000,36000,38000,40000,42000,44000,46000,48000,50000,52000],"format":"d","labelExpr":"datum.value==0||datum.value==10000||datum.value==30000||datum.value==50000?datum.label:''","title":null}},"y":{"field":"y","type":"quantitative","scale":{"domain":[0,20]},"axis":{"values":[0,10,20],"title":"Ratio(%)"}}},"layer":[{"transform":[{"filter":"datum.p=='Acr4S2'&&!datum.t"}],"mark":"rule","encoding":{"y2":{"datum":0}}},{"transform":[{"filter":"datum.p=='Acr4S2'&&datum.t"}],"mark":"text","encoding":{"text":{"field":"t"}}}]},
{"width":144,"height":28,"title":"Eup3S2","data":{"name":"a"},"encoding":{"x":{"field":"x","type":"quantitative","scale":{"domain":[0,52500]},"axis":{"values":[0,2000,4000,6000,8000,10000,12000,14000,16000,18000,20000,22000,24000,26000,28000,30000,32000,34000,36000,38000,40000,42000,44000,46000,48000,50000,52000],"format":"d","labelExpr":"datum.value==0||datum.value==10000||datum.value==30000||datum.value==50000?datum.label:''","title":null}},"y":{"field":"y","type":"quantitative","scale":{"domain":[0,20]},"axis":{"values":[0,10,20],"title":"Ratio(%)"}}},"layer":[{"transform":[{"filter":"datum.p=='Eup3S2'&&!datum.t"}],"mark":"rule","encoding":{"y2":{"datum":0}}},{"transform":[{"filter":"datum.p=='Eup3S2'&&datum.t"}],"mark":"text","encoding":{"text":{"field":"t"}}}]},
{"width":144,"height":28,"title":"Eup4S2","data":{"name":"a"},"encoding":{"x":{"field":"x","type":"quantitative","scale":{"domain":[0,52500]},"axis":{"values":[0,2000,4000,6000,8000,10000,12000,14000,16000,18000,20000,22000,24000,26000,28000,30000,32000,34000,36000,38000,40000,42000,44000,46000,48000,50000,52000],"format":"d","labelExpr":"datum.value==0||datum.value==10000||datum.value==30000||datum.value==50000?datum.label:''","title":"Unique Sequence Order"}},"y":{"field":"y","type":"quantitative","scale":{"domain":[0,20]},"axis":{"values":[0,10,20],"title":"Ratio(%)"}}},"layer":[{"transform":[{"filter":"datum.p=='Eup4S2'&&!datum.t"}],"mark":"rule","encoding":{"y2":{"datum":0}}},{"transform":[{"filter":"datum.p=='Eup4S2'&&datum.t"}],"mark":"text","encoding":{"text":{"field":"t"}}}]}
    ]}
  ]},
  {"spacing":0,"vconcat":[
    {"width":166,"height":22,"data":{"values":[{"t":"Kochi"}]},"layer":[
      {"mark":{"type":"text","fontSize":16.5,"align":"center","baseline":"bottom"},"encoding":{"text":{"field":"t"},"x":{"datum":0.45,"type":"quantitative","scale":{"domain":[0,1]},"axis":null},"y":{"datum":0.12,"type":"quantitative","scale":{"domain":[0,1]},"axis":null}}},
      {"mark":{"type":"rule","strokeWidth":1.6,"color":"#000"},"encoding":{"x":{"datum":-0.084,"type":"quantitative","scale":{"domain":[0,1]},"axis":null},"x2":{"datum":0.89},"y":{"datum":0,"type":"quantitative","scale":{"domain":[0,1]},"axis":null}}}]},
    {"spacing":4,"vconcat":[
{"width":144,"height":28,"view":{"fill":"#d9d9d9","stroke":null},"title":"Sea3S1","data":{"name":"a"},"encoding":{"x":{"field":"x","type":"quantitative","scale":{"domain":[0,52500]},"axis":{"values":[0,2000,4000,6000,8000,10000,12000,14000,16000,18000,20000,22000,24000,26000,28000,30000,32000,34000,36000,38000,40000,42000,44000,46000,48000,50000,52000],"format":"d","labelExpr":"datum.value==0||datum.value==10000||datum.value==30000||datum.value==50000?datum.label:''","title":null}},"y":{"field":"y","type":"quantitative","scale":{"domain":[0,20]},"axis":{"values":[0,10,20],"title":"Ratio(%)"}}},"layer":[{"transform":[{"filter":"datum.p=='Sea3S1'&&!datum.t"}],"mark":"rule","encoding":{"y2":{"datum":0}}},{"transform":[{"filter":"datum.p=='Sea3S1'&&datum.t"}],"mark":"text","encoding":{"text":{"field":"t"}}}]},
{"width":144,"height":28,"title":"Acr5S1","data":{"name":"a"},"encoding":{"x":{"field":"x","type":"quantitative","scale":{"domain":[0,52500]},"axis":{"values":[0,2000,4000,6000,8000,10000,12000,14000,16000,18000,20000,22000,24000,26000,28000,30000,32000,34000,36000,38000,40000,42000,44000,46000,48000,50000,52000],"format":"d","labelExpr":"datum.value==0||datum.value==10000||datum.value==30000||datum.value==50000?datum.label:''","title":null}},"y":{"field":"y","type":"quantitative","scale":{"domain":[0,9]},"axis":{"values":[0,4.5,9],"title":"Ratio(%)"}}},"layer":[{"transform":[{"filter":"datum.p=='Acr5S1'&&!datum.t"}],"mark":"rule","encoding":{"y2":{"datum":0}}},{"transform":[{"filter":"datum.p=='Acr5S1'&&datum.t"}],"mark":"text","encoding":{"text":{"field":"t"}}}]},
{"width":144,"height":28,"title":"Acr6S1","data":{"name":"a"},"encoding":{"x":{"field":"x","type":"quantitative","scale":{"domain":[0,52500]},"axis":{"values":[0,2000,4000,6000,8000,10000,12000,14000,16000,18000,20000,22000,24000,26000,28000,30000,32000,34000,36000,38000,40000,42000,44000,46000,48000,50000,52000],"format":"d","labelExpr":"datum.value==0||datum.value==10000||datum.value==30000||datum.value==50000?datum.label:''","title":null}},"y":{"field":"y","type":"quantitative","scale":{"domain":[0,20]},"axis":{"values":[0,10,20],"title":"Ratio(%)"}}},"layer":[{"transform":[{"filter":"datum.p=='Acr6S1'&&!datum.t"}],"mark":"rule","encoding":{"y2":{"datum":0}}},{"transform":[{"filter":"datum.p=='Acr6S1'&&datum.t"}],"mark":"text","encoding":{"text":{"field":"t"}}}]},
{"width":144,"height":28,"title":"Acr5D1","data":{"name":"a"},"encoding":{"x":{"field":"x","type":"quantitative","scale":{"domain":[0,52500]},"axis":{"values":[0,2000,4000,6000,8000,10000,12000,14000,16000,18000,20000,22000,24000,26000,28000,30000,32000,34000,36000,38000,40000,42000,44000,46000,48000,50000,52000],"format":"d","labelExpr":"datum.value==0||datum.value==10000||datum.value==30000||datum.value==50000?datum.label:''","title":null}},"y":{"field":"y","type":"quantitative","scale":{"domain":[0,20]},"axis":{"values":[0,10,20],"title":"Ratio(%)"}}},"layer":[{"transform":[{"filter":"datum.p=='Acr5D1'&&!datum.t"}],"mark":"rule","encoding":{"y2":{"datum":0}}},{"transform":[{"filter":"datum.p=='Acr5D1'&&datum.t"}],"mark":"text","encoding":{"text":{"field":"t"}}}]},
{"width":144,"height":28,"title":"Acr6D1","data":{"name":"a"},"encoding":{"x":{"field":"x","type":"quantitative","scale":{"domain":[0,52500]},"axis":{"values":[0,2000,4000,6000,8000,10000,12000,14000,16000,18000,20000,22000,24000,26000,28000,30000,32000,34000,36000,38000,40000,42000,44000,46000,48000,50000,52000],"format":"d","labelExpr":"datum.value==0||datum.value==10000||datum.value==30000||datum.value==50000?datum.label:''","title":null}},"y":{"field":"y","type":"quantitative","scale":{"domain":[0,20]},"axis":{"values":[0,10,20],"title":"Ratio(%)"}}},"layer":[{"transform":[{"filter":"datum.p=='Acr6D1'&&!datum.t"}],"mark":"rule","encoding":{"y2":{"datum":0}}},{"transform":[{"filter":"datum.p=='Acr6D1'&&datum.t"}],"mark":"text","encoding":{"text":{"field":"t"}}}]},
{"width":144,"height":28,"title":"Acr5A2","data":{"name":"a"},"encoding":{"x":{"field":"x","type":"quantitative","scale":{"domain":[0,52500]},"axis":{"values":[0,2000,4000,6000,8000,10000,12000,14000,16000,18000,20000,22000,24000,26000,28000,30000,32000,34000,36000,38000,40000,42000,44000,46000,48000,50000,52000],"format":"d","labelExpr":"datum.value==0||datum.value==10000||datum.value==30000||datum.value==50000?datum.label:''","title":null}},"y":{"field":"y","type":"quantitative","scale":{"domain":[0,30]},"axis":{"values":[0,15,30],"title":"Ratio(%)"}}},"layer":[{"transform":[{"filter":"datum.p=='Acr5A2'&&!datum.t"}],"mark":"rule","encoding":{"y2":{"datum":0}}},{"transform":[{"filter":"datum.p=='Acr5A2'&&datum.t"}],"mark":"text","encoding":{"text":{"field":"t"}}}]},
{"width":144,"height":28,"title":"Acr6A2","data":{"name":"a"},"encoding":{"x":{"field":"x","type":"quantitative","scale":{"domain":[0,52500]},"axis":{"values":[0,2000,4000,6000,8000,10000,12000,14000,16000,18000,20000,22000,24000,26000,28000,30000,32000,34000,36000,38000,40000,42000,44000,46000,48000,50000,52000],"format":"d","labelExpr":"datum.value==0||datum.value==10000||datum.value==30000||datum.value==50000?datum.label:''","title":null}},"y":{"field":"y","type":"quantitative","scale":{"domain":[0,20]},"axis":{"values":[0,10,20],"title":"Ratio(%)"}}},"layer":[{"transform":[{"filter":"datum.p=='Acr6A2'&&!datum.t"}],"mark":"rule","encoding":{"y2":{"datum":0}}},{"transform":[{"filter":"datum.p=='Acr6A2'&&datum.t"}],"mark":"text","encoding":{"text":{"field":"t"}}}]},
{"width":144,"height":28,"title":"Acr5S2","data":{"name":"a"},"encoding":{"x":{"field":"x","type":"quantitative","scale":{"domain":[0,52500]},"axis":{"values":[0,2000,4000,6000,8000,10000,12000,14000,16000,18000,20000,22000,24000,26000,28000,30000,32000,34000,36000,38000,40000,42000,44000,46000,48000,50000,52000],"format":"d","labelExpr":"datum.value==0||datum.value==10000||datum.value==30000||datum.value==50000?datum.label:''","title":null}},"y":{"field":"y","type":"quantitative","scale":{"domain":[0,30]},"axis":{"values":[0,15,30],"title":"Ratio(%)"}}},"layer":[{"transform":[{"filter":"datum.p=='Acr5S2'&&!datum.t"}],"mark":"rule","encoding":{"y2":{"datum":0}}},{"transform":[{"filter":"datum.p=='Acr5S2'&&datum.t"}],"mark":"text","encoding":{"text":{"field":"t"}}}]},
{"width":144,"height":28,"title":"Acr6S2","data":{"name":"a"},"encoding":{"x":{"field":"x","type":"quantitative","scale":{"domain":[0,52500]},"axis":{"values":[0,2000,4000,6000,8000,10000,12000,14000,16000,18000,20000,22000,24000,26000,28000,30000,32000,34000,36000,38000,40000,42000,44000,46000,48000,50000,52000],"format":"d","labelExpr":"datum.value==0||datum.value==10000||datum.value==30000||datum.value==50000?datum.label:''","title":null}},"y":{"field":"y","type":"quantitative","scale":{"domain":[0,30]},"axis":{"values":[0,15,30],"title":"Ratio(%)"}}},"layer":[{"transform":[{"filter":"datum.p=='Acr6S2'&&!datum.t"}],"mark":"rule","encoding":{"y2":{"datum":0}}},{"transform":[{"filter":"datum.p=='Acr6S2'&&datum.t"}],"mark":"text","encoding":{"text":{"field":"t"}}}]}
    ]}
  ]}
  ]}
 ]
},
{"title":{"text":"b","orient":"left","anchor":"end","angle":0,"align":"left","baseline":"top","fontSize":28,"fontWeight":"bold","offset":13},
 "spacing":12,
 "hconcat":[
  {"spacing":0,"vconcat":[
    {"width":336,"height":22,"data":{"values":[{"t":"Kenting"}]},"layer":[
      {"mark":{"type":"text","fontSize":16.5,"align":"center","baseline":"bottom"},"encoding":{"text":{"field":"t"},"x":{"datum":0.48,"type":"quantitative","scale":{"domain":[0,1]},"axis":null},"y":{"datum":0.12,"type":"quantitative","scale":{"domain":[0,1]},"axis":null}}},
      {"mark":{"type":"rule","strokeWidth":1.6,"color":"#000"},"encoding":{"x":{"datum":-0.068,"type":"quantitative","scale":{"domain":[0,1]},"axis":null},"x2":{"datum":0.988},"y":{"datum":0,"type":"quantitative","scale":{"domain":[0,1]},"axis":null}}}]},
    {"spacing":17,"hconcat":[
      {"spacing":4,"vconcat":[
{"width":144,"height":28,"title":"Mil1S1","data":{"name":"b"},"encoding":{"x":{"field":"x","type":"quantitative","scale":{"domain":[0,28000]},"axis":{"values":[0,4500,9000,13500,18000,22500,27000],"format":"d","labelExpr":"datum.value%9000==0?datum.label:''","title":null}},"y":{"field":"y","type":"quantitative","scale":{"domain":[0,50]},"axis":{"values":[0,25,50],"title":"Ratio(%)"}}},"layer":[{"transform":[{"filter":"datum.p=='Mil1S1'&&!datum.t"}],"mark":"rule","encoding":{"y2":{"datum":0}}},{"transform":[{"filter":"datum.p=='Mil1S1'&&datum.t"}],"mark":"text","encoding":{"text":{"field":"t"}}}]},
{"width":144,"height":28,"title":"Mil2S1","data":{"name":"b"},"encoding":{"x":{"field":"x","type":"quantitative","scale":{"domain":[0,28000]},"axis":{"values":[0,4500,9000,13500,18000,22500,27000],"format":"d","labelExpr":"datum.value%9000==0?datum.label:''","title":null}},"y":{"field":"y","type":"quantitative","scale":{"domain":[0,50]},"axis":{"values":[0,25,50],"title":"Ratio(%)"}}},"layer":[{"transform":[{"filter":"datum.p=='Mil2S1'&&!datum.t"}],"mark":"rule","encoding":{"y2":{"datum":0}}},{"transform":[{"filter":"datum.p=='Mil2S1'&&datum.t"}],"mark":"text","encoding":{"text":{"field":"t"}}}]},
{"width":144,"height":28,"title":"Hel1S1","data":{"name":"b"},"encoding":{"x":{"field":"x","type":"quantitative","scale":{"domain":[0,28000]},"axis":{"values":[0,4500,9000,13500,18000,22500,27000],"format":"d","labelExpr":"datum.value%9000==0?datum.label:''","title":null}},"y":{"field":"y","type":"quantitative","scale":{"domain":[0,50]},"axis":{"values":[0,25,50],"title":"Ratio(%)"}}},"layer":[{"transform":[{"filter":"datum.p=='Hel1S1'&&!datum.t"}],"mark":"rule","encoding":{"y2":{"datum":0}}},{"transform":[{"filter":"datum.p=='Hel1S1'&&datum.t"}],"mark":"text","encoding":{"text":{"field":"t"}}}]},
{"width":144,"height":28,"title":"Hel2S1","data":{"name":"b"},"encoding":{"x":{"field":"x","type":"quantitative","scale":{"domain":[0,28000]},"axis":{"values":[0,4500,9000,13500,18000,22500,27000],"format":"d","labelExpr":"datum.value%9000==0?datum.label:''","title":null}},"y":{"field":"y","type":"quantitative","scale":{"domain":[0,20]},"axis":{"values":[0,10,20],"title":"Ratio(%)"}}},"layer":[{"transform":[{"filter":"datum.p=='Hel2S1'&&!datum.t"}],"mark":"rule","encoding":{"y2":{"datum":0}}},{"transform":[{"filter":"datum.p=='Hel2S1'&&datum.t"}],"mark":"text","encoding":{"text":{"field":"t"}}}]},
{"width":144,"height":28,"title":"Pal1S1","data":{"name":"b"},"encoding":{"x":{"field":"x","type":"quantitative","scale":{"domain":[0,28000]},"axis":{"values":[0,4500,9000,13500,18000,22500,27000],"format":"d","labelExpr":"datum.value%9000==0?datum.label:''","title":null}},"y":{"field":"y","type":"quantitative","scale":{"domain":[0,20]},"axis":{"values":[0,10,20],"title":"Ratio(%)"}}},"layer":[{"transform":[{"filter":"datum.p=='Pal1S1'&&!datum.t"}],"mark":"rule","encoding":{"y2":{"datum":0}}},{"transform":[{"filter":"datum.p=='Pal1S1'&&datum.t"}],"mark":"text","encoding":{"text":{"field":"t"}}}]},
{"width":144,"height":28,"title":"Pal2S1","data":{"name":"b"},"encoding":{"x":{"field":"x","type":"quantitative","scale":{"domain":[0,28000]},"axis":{"values":[0,4500,9000,13500,18000,22500,27000],"format":"d","labelExpr":"datum.value%9000==0?datum.label:''","title":null}},"y":{"field":"y","type":"quantitative","scale":{"domain":[0,45]},"axis":{"values":[0,15,30,45],"title":"Ratio(%)"}}},"layer":[{"transform":[{"filter":"datum.p=='Pal2S1'&&!datum.t"}],"mark":"rule","encoding":{"y2":{"datum":0}}},{"transform":[{"filter":"datum.p=='Pal2S1'&&datum.t"}],"mark":"text","encoding":{"text":{"field":"t"}}}]},
{"width":144,"height":28,"title":"Sty1S1","data":{"name":"b"},"encoding":{"x":{"field":"x","type":"quantitative","scale":{"domain":[0,28000]},"axis":{"values":[0,4500,9000,13500,18000,22500,27000],"format":"d","labelExpr":"datum.value%9000==0?datum.label:''","title":null}},"y":{"field":"y","type":"quantitative","scale":{"domain":[0,50]},"axis":{"values":[0,25,50],"title":"Ratio(%)"}}},"layer":[{"transform":[{"filter":"datum.p=='Sty1S1'&&!datum.t"}],"mark":"rule","encoding":{"y2":{"datum":0}}},{"transform":[{"filter":"datum.p=='Sty1S1'&&datum.t"}],"mark":"text","encoding":{"text":{"field":"t"}}}]},
{"width":144,"height":28,"title":"Sty2S1","data":{"name":"b"},"encoding":{"x":{"field":"x","type":"quantitative","scale":{"domain":[0,28000]},"axis":{"values":[0,4500,9000,13500,18000,22500,27000],"format":"d","labelExpr":"datum.value%9000==0?datum.label:''","title":null}},"y":{"field":"y","type":"quantitative","scale":{"domain":[0,40]},"axis":{"values":[0,20,40],"title":"Ratio(%)"}}},"layer":[{"transform":[{"filter":"datum.p=='Sty2S1'&&!datum.t"}],"mark":"rule","encoding":{"y2":{"datum":0}}},{"transform":[{"filter":"datum.p=='Sty2S1'&&datum.t"}],"mark":"text","encoding":{"text":{"field":"t"}}}]},
{"width":144,"height":28,"title":"Fav1A2","data":{"name":"b"},"encoding":{"x":{"field":"x","type":"quantitative","scale":{"domain":[0,28000]},"axis":{"values":[0,4500,9000,13500,18000,22500,27000],"format":"d","labelExpr":"datum.value%9000==0?datum.label:''","title":null}},"y":{"field":"y","type":"quantitative","scale":{"domain":[0,7]},"axis":{"values":[0,3.5,7],"title":"Ratio(%)"}}},"layer":[{"transform":[{"filter":"datum.p=='Fav1A2'&&!datum.t"}],"mark":"rule","encoding":{"y2":{"datum":0}}},{"transform":[{"filter":"datum.p=='Fav1A2'&&datum.t"}],"mark":"text","encoding":{"text":{"field":"t"}}}]},
{"width":144,"height":28,"title":"Fav2A2","data":{"name":"b"},"encoding":{"x":{"field":"x","type":"quantitative","scale":{"domain":[0,28000]},"axis":{"values":[0,4500,9000,13500,18000,22500,27000],"format":"d","labelExpr":"datum.value%9000==0?datum.label:''","title":"Unique Sequence Order"}},"y":{"field":"y","type":"quantitative","scale":{"domain":[0,8]},"axis":{"values":[0,4,8],"title":"Ratio(%)"}}},"layer":[{"transform":[{"filter":"datum.p=='Fav2A2'&&!datum.t"}],"mark":"rule","encoding":{"y2":{"datum":0}}},{"transform":[{"filter":"datum.p=='Fav2A2'&&datum.t"}],"mark":"text","encoding":{"text":{"field":"t"}}}]}
      ]},
      {"spacing":4,"vconcat":[
{"width":144,"height":28,"view":{"fill":"#d9d9d9","stroke":null},"title":"Sea1S1","data":{"name":"b"},"encoding":{"x":{"field":"x","type":"quantitative","scale":{"domain":[0,28000]},"axis":{"values":[0,4500,9000,13500,18000,22500,27000],"format":"d","labelExpr":"datum.value%9000==0?datum.label:''","title":null}},"y":{"field":"y","type":"quantitative","scale":{"domain":[0,5]},"axis":{"values":[0,2.5,5],"title":"Ratio(%)"}}},"layer":[{"transform":[{"filter":"datum.p=='Sea1S1'&&!datum.t"}],"mark":"rule","encoding":{"y2":{"datum":0}}},{"transform":[{"filter":"datum.p=='Sea1S1'&&datum.t"}],"mark":"text","encoding":{"text":{"field":"t"}}}]},
{"width":144,"height":28,"title":"Iso1M1","data":{"name":"b"},"encoding":{"x":{"field":"x","type":"quantitative","scale":{"domain":[0,28000]},"axis":{"values":[0,4500,9000,13500,18000,22500,27000],"format":"d","labelExpr":"datum.value%9000==0?datum.label:''","title":null}},"y":{"field":"y","type":"quantitative","scale":{"domain":[0,30]},"axis":{"values":[0,15,30],"title":"Ratio(%)"}}},"layer":[{"transform":[{"filter":"datum.p=='Iso1M1'&&!datum.t"}],"mark":"rule","encoding":{"y2":{"datum":0}}},{"transform":[{"filter":"datum.p=='Iso1M1'&&datum.t"}],"mark":"text","encoding":{"text":{"field":"t"}}}]},
{"width":144,"height":28,"title":"Iso2M1","data":{"name":"b"},"encoding":{"x":{"field":"x","type":"quantitative","scale":{"domain":[0,28000]},"axis":{"values":[0,4500,9000,13500,18000,22500,27000],"format":"d","labelExpr":"datum.value%9000==0?datum.label:''","title":null}},"y":{"field":"y","type":"quantitative","scale":{"domain":[0,30]},"axis":{"values":[0,15,30],"title":"Ratio(%)"}}},"layer":[{"transform":[{"filter":"datum.p=='Iso2M1'&&!datum.t"}],"mark":"rule","encoding":{"y2":{"datum":0}}},{"transform":[{"filter":"datum.p=='Iso2M1'&&datum.t"}],"mark":"text","encoding":{"text":{"field":"t"}}}]},
{"width":144,"height":28,"title":"Acr1S1","data":{"name":"b"},"encoding":{"x":{"field":"x","type":"quantitative","scale":{"domain":[0,28000]},"axis":{"values":[0,4500,9000,13500,18000,22500,27000],"format":"d","labelExpr":"datum.value%9000==0?datum.label:''","title":null}},"y":{"field":"y","type":"quantitative","scale":{"domain":[0,50]},"axis":{"values":[0,25,50],"title":"Ratio(%)"}}},"layer":[{"transform":[{"filter":"datum.p=='Acr1S1'&&!datum.t"}],"mark":"rule","encoding":{"y2":{"datum":0}}},{"transform":[{"filter":"datum.p=='Acr1S1'&&datum.t"}],"mark":"text","encoding":{"text":{"field":"t"}}}]},
{"width":144,"height":28,"title":"Acr2S1","data":{"name":"b"},"encoding":{"x":{"field":"x","type":"quantitative","scale":{"domain":[0,28000]},"axis":{"values":[0,4500,9000,13500,18000,22500,27000],"format":"d","labelExpr":"datum.value%9000==0?datum.label:''","title":null}},"y":{"field":"y","type":"quantitative","scale":{"domain":[0,15]},"axis":{"values":[0,5,10,15],"title":"Ratio(%)"}}},"layer":[{"transform":[{"filter":"datum.p=='Acr2S1'&&!datum.t"}],"mark":"rule","encoding":{"y2":{"datum":0}}},{"transform":[{"filter":"datum.p=='Acr2S1'&&datum.t"}],"mark":"text","encoding":{"text":{"field":"t"}}}]},
{"width":144,"height":28,"title":"Mon1S1","data":{"name":"b"},"encoding":{"x":{"field":"x","type":"quantitative","scale":{"domain":[0,28000]},"axis":{"values":[0,4500,9000,13500,18000,22500,27000],"format":"d","labelExpr":"datum.value%9000==0?datum.label:''","title":null}},"y":{"field":"y","type":"quantitative","scale":{"domain":[0,30]},"axis":{"values":[0,15,30],"title":"Ratio(%)"}}},"layer":[{"transform":[{"filter":"datum.p=='Mon1S1'&&!datum.t"}],"mark":"rule","encoding":{"y2":{"datum":0}}},{"transform":[{"filter":"datum.p=='Mon1S1'&&datum.t"}],"mark":"text","encoding":{"text":{"field":"t"}}}]},
{"width":144,"height":28,"title":"Mon2S1","data":{"name":"b"},"encoding":{"x":{"field":"x","type":"quantitative","scale":{"domain":[0,28000]},"axis":{"values":[0,4500,9000,13500,18000,22500,27000],"format":"d","labelExpr":"datum.value%9000==0?datum.label:''","title":null}},"y":{"field":"y","type":"quantitative","scale":{"domain":[0,30]},"axis":{"values":[0,15,30],"title":"Ratio(%)"}}},"layer":[{"transform":[{"filter":"datum.p=='Mon2S1'&&!datum.t"}],"mark":"rule","encoding":{"y2":{"datum":0}}},{"transform":[{"filter":"datum.p=='Mon2S1'&&datum.t"}],"mark":"text","encoding":{"text":{"field":"t"}}}]},
{"width":144,"height":28,"title":"Eup1S1","data":{"name":"b"},"encoding":{"x":{"field":"x","type":"quantitative","scale":{"domain":[0,28000]},"axis":{"values":[0,4500,9000,13500,18000,22500,27000],"format":"d","labelExpr":"datum.value%9000==0?datum.label:''","title":null}},"y":{"field":"y","type":"quantitative","scale":{"domain":[0,15]},"axis":{"values":[0,5,10,15],"title":"Ratio(%)"}}},"layer":[{"transform":[{"filter":"datum.p=='Eup1S1'&&!datum.t"}],"mark":"rule","encoding":{"y2":{"datum":0}}},{"transform":[{"filter":"datum.p=='Eup1S1'&&datum.t"}],"mark":"text","encoding":{"text":{"field":"t"}}}]},
{"width":144,"height":28,"title":"Eup2A2","data":{"name":"b"},"encoding":{"x":{"field":"x","type":"quantitative","scale":{"domain":[0,28000]},"axis":{"values":[0,4500,9000,13500,18000,22500,27000],"format":"d","labelExpr":"datum.value%9000==0?datum.label:''","title":"Unique Sequence Order"}},"y":{"field":"y","type":"quantitative","scale":{"domain":[0,15]},"axis":{"values":[0,5,10,15],"title":"Ratio(%)"}}},"layer":[{"transform":[{"filter":"datum.p=='Eup2A2'&&!datum.t"}],"mark":"rule","encoding":{"y2":{"datum":0}}},{"transform":[{"filter":"datum.p=='Eup2A2'&&datum.t"}],"mark":"text","encoding":{"text":{"field":"t"}}}]}
      ]}
    ]}
  ]},
  {"spacing":8,"hconcat":[
  {"spacing":0,"vconcat":[
    {"width":166,"height":22,"data":{"values":[{"t":"Hemei"}]},"layer":[
      {"mark":{"type":"text","fontSize":16.5,"align":"center","baseline":"bottom"},"encoding":{"text":{"field":"t"},"x":{"datum":0.464,"type":"quantitative","scale":{"domain":[0,1]},"axis":null},"y":{"datum":0.12,"type":"quantitative","scale":{"domain":[0,1]},"axis":null}}},
      {"mark":{"type":"rule","strokeWidth":1.6,"color":"#000"},"encoding":{"x":{"datum":-0.09,"type":"quantitative","scale":{"domain":[0,1]},"axis":null},"x2":{"datum":0.898},"y":{"datum":0,"type":"quantitative","scale":{"domain":[0,1]},"axis":null}}}]},
    {"spacing":4,"vconcat":[
{"width":144,"height":28,"view":{"fill":"#d9d9d9","stroke":null},"title":"Sea2S2","data":{"name":"b"},"encoding":{"x":{"field":"x","type":"quantitative","scale":{"domain":[0,28000]},"axis":{"values":[0,4500,9000,13500,18000,22500,27000],"format":"d","labelExpr":"datum.value%9000==0?datum.label:''","title":null}},"y":{"field":"y","type":"quantitative","scale":{"domain":[0,5]},"axis":{"values":[0,2.5,5],"title":"Ratio(%)"}}},"layer":[{"transform":[{"filter":"datum.p=='Sea2S2'&&!datum.t"}],"mark":"rule","encoding":{"y2":{"datum":0}}},{"transform":[{"filter":"datum.p=='Sea2S2'&&datum.t"}],"mark":"text","encoding":{"text":{"field":"t"}}}]},
{"width":144,"height":28,"title":"Acr3S2","data":{"name":"b"},"encoding":{"x":{"field":"x","type":"quantitative","scale":{"domain":[0,28000]},"axis":{"values":[0,4500,9000,13500,18000,22500,27000],"format":"d","labelExpr":"datum.value%9000==0?datum.label:''","title":null}},"y":{"field":"y","type":"quantitative","scale":{"domain":[0,10]},"axis":{"values":[0,5,10],"title":"Ratio(%)"}}},"layer":[{"transform":[{"filter":"datum.p=='Acr3S2'&&!datum.t"}],"mark":"rule","encoding":{"y2":{"datum":0}}},{"transform":[{"filter":"datum.p=='Acr3S2'&&datum.t"}],"mark":"text","encoding":{"text":{"field":"t"}}}]},
{"width":144,"height":28,"title":"Acr4S2","data":{"name":"b"},"encoding":{"x":{"field":"x","type":"quantitative","scale":{"domain":[0,28000]},"axis":{"values":[0,4500,9000,13500,18000,22500,27000],"format":"d","labelExpr":"datum.value%9000==0?datum.label:''","title":null}},"y":{"field":"y","type":"quantitative","scale":{"domain":[0,15]},"axis":{"values":[0,5,10,15],"title":"Ratio(%)"}}},"layer":[{"transform":[{"filter":"datum.p=='Acr4S2'&&!datum.t"}],"mark":"rule","encoding":{"y2":{"datum":0}}},{"transform":[{"filter":"datum.p=='Acr4S2'&&datum.t"}],"mark":"text","encoding":{"text":{"field":"t"}}}]},
{"width":144,"height":28,"title":"Eup3S2","data":{"name":"b"},"encoding":{"x":{"field":"x","type":"quantitative","scale":{"domain":[0,28000]},"axis":{"values":[0,4500,9000,13500,18000,22500,27000],"format":"d","labelExpr":"datum.value%9000==0?datum.label:''","title":null}},"y":{"field":"y","type":"quantitative","scale":{"domain":[0,30]},"axis":{"values":[0,15,30],"title":"Ratio(%)"}}},"layer":[{"transform":[{"filter":"datum.p=='Eup3S2'&&!datum.t"}],"mark":"rule","encoding":{"y2":{"datum":0}}},{"transform":[{"filter":"datum.p=='Eup3S2'&&datum.t"}],"mark":"text","encoding":{"text":{"field":"t"}}}]},
{"width":144,"height":28,"title":"Eup4S2","data":{"name":"b"},"encoding":{"x":{"field":"x","type":"quantitative","scale":{"domain":[0,28000]},"axis":{"values":[0,4500,9000,13500,18000,22500,27000],"format":"d","labelExpr":"datum.value%9000==0?datum.label:''","title":"Unique Sequence Order"}},"y":{"field":"y","type":"quantitative","scale":{"domain":[0,20]},"axis":{"values":[0,10,20],"title":"Ratio(%)"}}},"layer":[{"transform":[{"filter":"datum.p=='Eup4S2'&&!datum.t"}],"mark":"rule","encoding":{"y2":{"datum":0}}},{"transform":[{"filter":"datum.p=='Eup4S2'&&datum.t"}],"mark":"text","encoding":{"text":{"field":"t"}}}]}
    ]}
  ]},
  {"spacing":0,"vconcat":[
    {"width":166,"height":22,"data":{"values":[{"t":"Kochi"}]},"layer":[
      {"mark":{"type":"text","fontSize":16.5,"align":"center","baseline":"bottom"},"encoding":{"text":{"field":"t"},"x":{"datum":0.45,"type":"quantitative","scale":{"domain":[0,1]},"axis":null},"y":{"datum":0.12,"type":"quantitative","scale":{"domain":[0,1]},"axis":null}}},
      {"mark":{"type":"rule","strokeWidth":1.6,"color":"#000"},"encoding":{"x":{"datum":-0.084,"type":"quantitative","scale":{"domain":[0,1]},"axis":null},"x2":{"datum":0.89},"y":{"datum":0,"type":"quantitative","scale":{"domain":[0,1]},"axis":null}}}]},
    {"spacing":4,"vconcat":[
{"width":144,"height":28,"view":{"fill":"#d9d9d9","stroke":null},"title":"Sea3S1","data":{"name":"b"},"encoding":{"x":{"field":"x","type":"quantitative","scale":{"domain":[0,28000]},"axis":{"values":[0,4500,9000,13500,18000,22500,27000],"format":"d","labelExpr":"datum.value%9000==0?datum.label:''","title":null}},"y":{"field":"y","type":"quantitative","scale":{"domain":[0,5]},"axis":{"values":[0,2.5,5],"title":"Ratio(%)"}}},"layer":[{"transform":[{"filter":"datum.p=='Sea3S1'&&!datum.t"}],"mark":"rule","encoding":{"y2":{"datum":0}}},{"transform":[{"filter":"datum.p=='Sea3S1'&&datum.t"}],"mark":"text","encoding":{"text":{"field":"t"}}}]},
{"width":144,"height":28,"title":"Acr5S1","data":{"name":"b"},"encoding":{"x":{"field":"x","type":"quantitative","scale":{"domain":[0,28000]},"axis":{"values":[0,4500,9000,13500,18000,22500,27000],"format":"d","labelExpr":"datum.value%9000==0?datum.label:''","title":null}},"y":{"field":"y","type":"quantitative","scale":{"domain":[0,30]},"axis":{"values":[0,15,30],"title":"Ratio(%)"}}},"layer":[{"transform":[{"filter":"datum.p=='Acr5S1'&&!datum.t"}],"mark":"rule","encoding":{"y2":{"datum":0}}},{"transform":[{"filter":"datum.p=='Acr5S1'&&datum.t"}],"mark":"text","encoding":{"text":{"field":"t"}}}]},
{"width":144,"height":28,"title":"Acr6S1","data":{"name":"b"},"encoding":{"x":{"field":"x","type":"quantitative","scale":{"domain":[0,28000]},"axis":{"values":[0,4500,9000,13500,18000,22500,27000],"format":"d","labelExpr":"datum.value%9000==0?datum.label:''","title":null}},"y":{"field":"y","type":"quantitative","scale":{"domain":[0,30]},"axis":{"values":[0,15,30],"title":"Ratio(%)"}}},"layer":[{"transform":[{"filter":"datum.p=='Acr6S1'&&!datum.t"}],"mark":"rule","encoding":{"y2":{"datum":0}}},{"transform":[{"filter":"datum.p=='Acr6S1'&&datum.t"}],"mark":"text","encoding":{"text":{"field":"t"}}}]},
{"width":144,"height":28,"title":"Acr5D1","data":{"name":"b"},"encoding":{"x":{"field":"x","type":"quantitative","scale":{"domain":[0,28000]},"axis":{"values":[0,4500,9000,13500,18000,22500,27000],"format":"d","labelExpr":"datum.value%9000==0?datum.label:''","title":null}},"y":{"field":"y","type":"quantitative","scale":{"domain":[0,40]},"axis":{"values":[0,20,40],"title":"Ratio(%)"}}},"layer":[{"transform":[{"filter":"datum.p=='Acr5D1'&&!datum.t"}],"mark":"rule","encoding":{"y2":{"datum":0}}},{"transform":[{"filter":"datum.p=='Acr5D1'&&datum.t"}],"mark":"text","encoding":{"text":{"field":"t"}}}]},
{"width":144,"height":28,"title":"Acr6D1","data":{"name":"b"},"encoding":{"x":{"field":"x","type":"quantitative","scale":{"domain":[0,28000]},"axis":{"values":[0,4500,9000,13500,18000,22500,27000],"format":"d","labelExpr":"datum.value%9000==0?datum.label:''","title":null}},"y":{"field":"y","type":"quantitative","scale":{"domain":[0,30]},"axis":{"values":[0,15,30],"title":"Ratio(%)"}}},"layer":[{"transform":[{"filter":"datum.p=='Acr6D1'&&!datum.t"}],"mark":"rule","encoding":{"y2":{"datum":0}}},{"transform":[{"filter":"datum.p=='Acr6D1'&&datum.t"}],"mark":"text","encoding":{"text":{"field":"t"}}}]},
{"width":144,"height":28,"title":"Acr5A2","data":{"name":"b"},"encoding":{"x":{"field":"x","type":"quantitative","scale":{"domain":[0,28000]},"axis":{"values":[0,4500,9000,13500,18000,22500,27000],"format":"d","labelExpr":"datum.value%9000==0?datum.label:''","title":null}},"y":{"field":"y","type":"quantitative","scale":{"domain":[0,20]},"axis":{"values":[0,10,20],"title":"Ratio(%)"}}},"layer":[{"transform":[{"filter":"datum.p=='Acr5A2'&&!datum.t"}],"mark":"rule","encoding":{"y2":{"datum":0}}},{"transform":[{"filter":"datum.p=='Acr5A2'&&datum.t"}],"mark":"text","encoding":{"text":{"field":"t"}}}]},
{"width":144,"height":28,"title":"Acr6A2","data":{"name":"b"},"encoding":{"x":{"field":"x","type":"quantitative","scale":{"domain":[0,28000]},"axis":{"values":[0,4500,9000,13500,18000,22500,27000],"format":"d","labelExpr":"datum.value%9000==0?datum.label:''","title":null}},"y":{"field":"y","type":"quantitative","scale":{"domain":[0,40]},"axis":{"values":[0,20,40],"title":"Ratio(%)"}}},"layer":[{"transform":[{"filter":"datum.p=='Acr6A2'&&!datum.t"}],"mark":"rule","encoding":{"y2":{"datum":0}}},{"transform":[{"filter":"datum.p=='Acr6A2'&&datum.t"}],"mark":"text","encoding":{"text":{"field":"t"}}}]},
{"width":144,"height":28,"title":"Acr5S2","data":{"name":"b"},"encoding":{"x":{"field":"x","type":"quantitative","scale":{"domain":[0,28000]},"axis":{"values":[0,4500,9000,13500,18000,22500,27000],"format":"d","labelExpr":"datum.value%9000==0?datum.label:''","title":null}},"y":{"field":"y","type":"quantitative","scale":{"domain":[0,20]},"axis":{"values":[0,10,20],"title":"Ratio(%)"}}},"layer":[{"transform":[{"filter":"datum.p=='Acr5S2'&&!datum.t"}],"mark":"rule","encoding":{"y2":{"datum":0}}},{"transform":[{"filter":"datum.p=='Acr5S2'&&datum.t"}],"mark":"text","encoding":{"text":{"field":"t"}}}]},
{"width":144,"height":28,"title":"Acr6S2","data":{"name":"b"},"encoding":{"x":{"field":"x","type":"quantitative","scale":{"domain":[0,28000]},"axis":{"values":[0,4500,9000,13500,18000,22500,27000],"format":"d","labelExpr":"datum.value%9000==0?datum.label:''","title":"Unique Sequence Order"}},"y":{"field":"y","type":"quantitative","scale":{"domain":[0,20]},"axis":{"values":[0,10,20],"title":"Ratio(%)"}}},"layer":[{"transform":[{"filter":"datum.p=='Acr6S2'&&!datum.t"}],"mark":"rule","encoding":{"y2":{"datum":0}}},{"transform":[{"filter":"datum.p=='Acr6S2'&&datum.t"}],"mark":"text","encoding":{"text":{"field":"t"}}}]}
    ]}
  ]}
  ]}
 ]
}
]
}
